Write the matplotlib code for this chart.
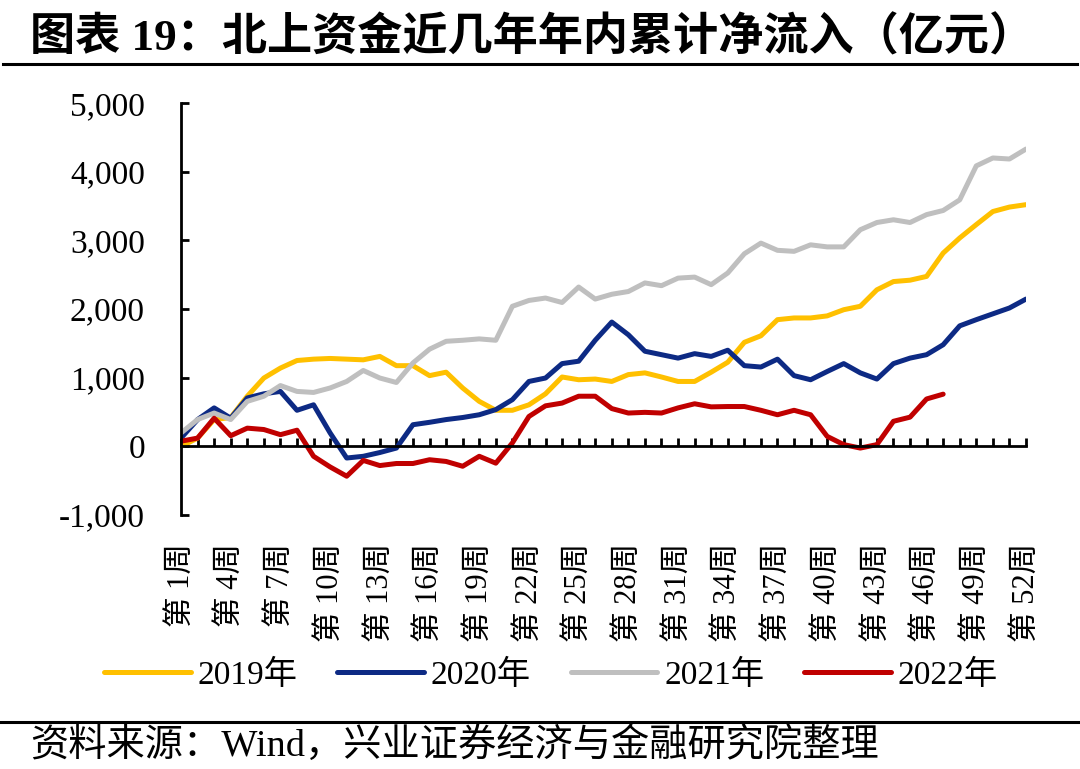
import numpy as np
import matplotlib.pyplot as plt
from matplotlib.lines import Line2D
from matplotlib.ticker import FuncFormatter

plt.rcParams['font.family'] = ['Liberation Serif', 'Noto Sans CJK SC']
plt.rcParams['axes.unicode_minus'] = False

weeks = np.arange(1, 53)
week_labels = ['第 %d周' % w for w in weeks[::3]]

# cumulative net inflow (100m yuan)
y2019 = [0, 120, 390, 420, 730, 995, 1140, 1250, 1270, 1280, 1270, 1260, 1310, 1175,
         1175, 1030, 1080, 850, 655, 525, 525, 605, 765, 1010, 970, 980, 945, 1045,
         1070, 1010, 945, 945, 1080, 1225, 1515, 1610, 1845, 1870, 1870, 1900, 1990,
         2040, 2280, 2400, 2420, 2475, 2815, 3035, 3230, 3420, 3485, 3520]
y2020 = [120, 390, 560, 410, 705, 765, 800, 525, 605, 195, -170, -145, -90, -25,
         315, 350, 390, 420, 460, 535, 680, 945, 995, 1205, 1240, 1545, 1810, 1625,
         1385, 1335, 1285, 1350, 1310, 1400, 1175, 1155, 1270, 1030, 970, 1090, 1205,
         1070, 980, 1205, 1285, 1335, 1480, 1755, 1845, 1930, 2015, 2145]
y2021 = [195, 390, 485, 390, 655, 730, 885, 800, 785, 850, 945, 1105, 995, 930,
         1215, 1415, 1530, 1545, 1565, 1545, 2040, 2125, 2160, 2095, 2320, 2145, 2215,
         2255, 2380, 2340, 2450, 2465, 2355, 2525, 2805, 2960, 2855, 2840, 2935, 2905,
         2905, 3155, 3260, 3300, 3260, 3375, 3435, 3590, 4085, 4200, 4185, 4330]
y2022 = [75, 120, 410, 155, 265, 245, 170, 235, -145, -300, -435, -205, -280, -250,
         -250, -195, -220, -290, -145, -245, 50, 435, 590, 630, 730, 730, 550, 485,
         495, 485, 560, 620, 575, 580, 580, 525, 460, 525, 460, 145, 25, -25, 25,
         365, 425, 690, 760]

series = [('2019年', y2019, '#FFC000'),
          ('2020年', y2020, '#0D2A84'),
          ('2021年', y2021, '#BFBFBF'),
          ('2022年', y2022, '#C00000')]

fig = plt.figure(figsize=(10.8, 7.69), dpi=100)
ax = fig.add_axes([0.1676, 0.3303, 0.95 - 0.1676, 0.866 - 0.3303])

for name, vals, col in series:
    ax.plot(weeks[:len(vals)], vals, color=col, lw=3.6, label=name,
            solid_capstyle='round', solid_joinstyle='round')

ax.set_xlim(1, 52)
ax.set_ylim(-1000, 5000)
ax.set_yticks(np.arange(-1000, 5001, 1000))
ax.yaxis.set_major_formatter(FuncFormatter(lambda v, p: '{:,.0f}'.format(v)))
ax.tick_params(axis='y', direction='in', length=6, width=2, labelsize=24, pad=26)

ax.spines['top'].set_visible(False)
ax.spines['right'].set_visible(False)
ax.spines['left'].set_linewidth(2)
ax.spines['bottom'].set_position(('data', 0))
ax.spines['bottom'].set_linewidth(2)
ax.set_xticks(weeks)
ax.tick_params(axis='x', direction='in', length=6, width=2, labelbottom=False)

sec = ax.secondary_xaxis('bottom')
sec.set_xticks(weeks[::3])
sec.set_xticklabels(week_labels, rotation=90)
sec.spines['bottom'].set_visible(False)
sec.tick_params(length=0, pad=20, labelsize=22)

fig.legend(loc='center', bbox_to_anchor=(0.51, 0.122), ncol=4, frameon=False,
           fontsize=24, handlelength=2.6, handletextpad=0.2, columnspacing=1.2)

fig.text(0.028, 0.951, '图表 19：北上资金近几年年内累计净流入（亿元）', fontsize=32.5,
         fontweight='bold', ha='left', va='center')
fig.add_artist(Line2D([0.003, 0.997], [0.917, 0.917], color='black', lw=2.2))
fig.add_artist(Line2D([0.0, 1.0], [0.061, 0.061], color='black', lw=2.2))
fig.text(0.028, 0.031, '资料来源：Wind，兴业证券经济与金融研究院整理', fontsize=27.5,
         ha='left', va='center')

fig.savefig('out.png', dpi=100)
